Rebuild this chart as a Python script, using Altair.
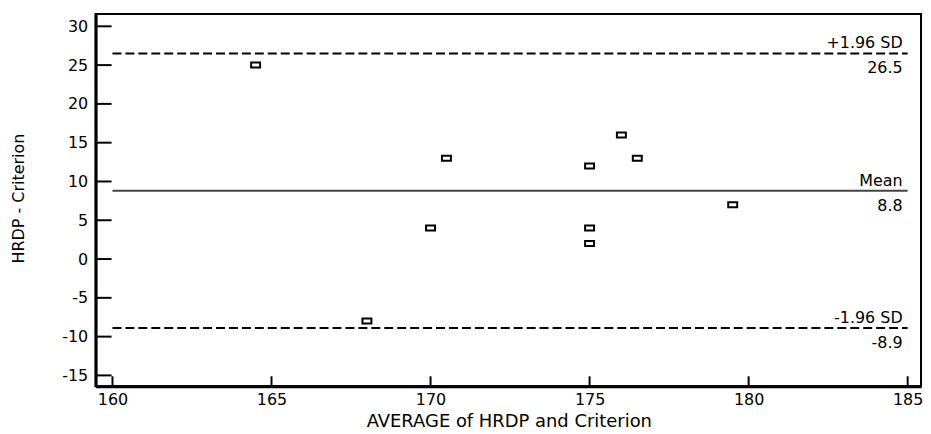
import altair as alt
import pandas as pd

# ---- data ----
avg_values = [164.5, 168.0, 170.0, 170.5, 175.0, 175.0, 175.0, 176.0, 176.5, 179.5]
diff_values = [25, -8, 4, 13, 12, 4, 2, 16, 13, 7]

line_names = ["upper", "mean", "lower"]
line_values = [26.5, 8.8, -8.9]
line_top_labels = ["+1.96 SD", "Mean", "-1.96 SD"]
line_bottom_labels = ["26.5", "8.8", "-8.9"]
line_start = 160
line_end = 185

x_ticks = [160, 165, 170, 175, 180, 185]
y_ticks = [-15, -10, -5, 0, 5, 10, 15, 20, 25, 30]

x_domain = [159.47, 185.42]
y_domain = [-16.4, 31.6]

W, H = 829, 374
FONT = "DejaVu Sans"

points_df = pd.DataFrame({"avg": avg_values, "diff": diff_values})
lines_df = pd.DataFrame({
    "name": line_names,
    "value": line_values,
    "top": line_top_labels,
    "bottom": line_bottom_labels,
    "x1": [line_start] * 3,
    "x2": [line_end] * 3,
})
xt_df = pd.DataFrame({"t": x_ticks})
yt_df = pd.DataFrame({"t": y_ticks})

xs = alt.Scale(domain=x_domain, nice=False, zero=False)
ys = alt.Scale(domain=y_domain, nice=False, zero=False)

x_axis = alt.Axis(
    values=x_ticks, ticks=False, tickSize=0, labelPadding=5, grid=False,
    domainWidth=3, domainColor="black", labelFont=FONT, labelFontSize=16,
    labelColor="black", labelFlush=False, labelOverlap=False,
    labelExpr="datum.value + ''",
    title="AVERAGE of HRDP and Criterion", titleFont=FONT, titleFontSize=18,
    titleFontWeight="normal", titleColor="black", titleX=415, titleY=40,
    titleAlign="center", titleBaseline="alphabetic",
)
y_axis = alt.Axis(
    values=y_ticks, ticks=False, tickSize=0, labelPadding=8, grid=False,
    domainWidth=3, domainColor="black", labelFont=FONT, labelFontSize=16,
    labelColor="black", labelFlush=False, labelOverlap=False,
    labelExpr="datum.value + ''",
    title="HRDP - Criterion", titleFont=FONT, titleFontSize=16,
    titleFontWeight="normal", titleColor="black", titleAngle=270,
    titleX=-77, titleY=185, titleAlign="center", titleBaseline="middle",
)

points = alt.Chart(points_df).mark_point(
    shape="M-1,-0.56H1V0.56H-1Z", size=81, filled=False,
    stroke="black", strokeWidth=2, opacity=1,
).encode(
    x=alt.X("avg:Q", scale=xs, axis=x_axis),
    y=alt.Y("diff:Q", scale=ys, axis=y_axis),
)

sd_lines = alt.Chart(lines_df).transform_filter(
    alt.datum.name != "mean"
).mark_rule(color="black", strokeWidth=2, strokeDash=[9, 4]).encode(
    x=alt.X("x1:Q", scale=xs, axis=x_axis),
    x2="x2:Q",
    y=alt.Y("value:Q", scale=ys, axis=y_axis),
)

mean_line = alt.Chart(lines_df).transform_filter(
    alt.datum.name == "mean"
).mark_rule(color="#444444", strokeWidth=2).encode(
    x=alt.X("x1:Q", scale=xs, axis=x_axis),
    x2="x2:Q",
    y=alt.Y("value:Q", scale=ys, axis=y_axis),
)

top_text = alt.Chart(lines_df).mark_text(
    align="right", baseline="alphabetic", dx=-5, dy=-5,
    font=FONT, fontSize=16, color="black",
).encode(
    x=alt.X("x2:Q", scale=xs, axis=x_axis),
    y=alt.Y("value:Q", scale=ys, axis=y_axis),
    text="top:N",
)

bottom_text = alt.Chart(lines_df).mark_text(
    align="right", baseline="alphabetic", dx=-5, dy=20,
    font=FONT, fontSize=16, color="black",
).encode(
    x=alt.X("x2:Q", scale=xs, axis=x_axis),
    y=alt.Y("value:Q", scale=ys, axis=y_axis),
    text="bottom:N",
)

# inward-pointing ticks
y_tick_marks = alt.Chart(yt_df).mark_rule(color="black", strokeWidth=2).encode(
    y=alt.Y("t:Q", scale=ys, axis=y_axis),
    x=alt.value(0),
    x2=alt.value(16),
)
x_tick_marks = alt.Chart(xt_df).mark_rule(color="black", strokeWidth=2).encode(
    x=alt.X("t:Q", scale=xs, axis=x_axis),
    y=alt.value(H),
    y2=alt.value(H - 10),
)

chart = alt.layer(
    points, sd_lines, mean_line, top_text, bottom_text, y_tick_marks, x_tick_marks
).properties(
    width=W, height=H,
    autosize=alt.AutoSizeParams(type="none"),
    padding={"left": 88, "top": 5, "right": 2, "bottom": 45},
    background="white",
).configure_view(
    stroke="black", strokeWidth=2
)

chart.save("out.html", embed_options={"renderer": "svg", "actions": False})
